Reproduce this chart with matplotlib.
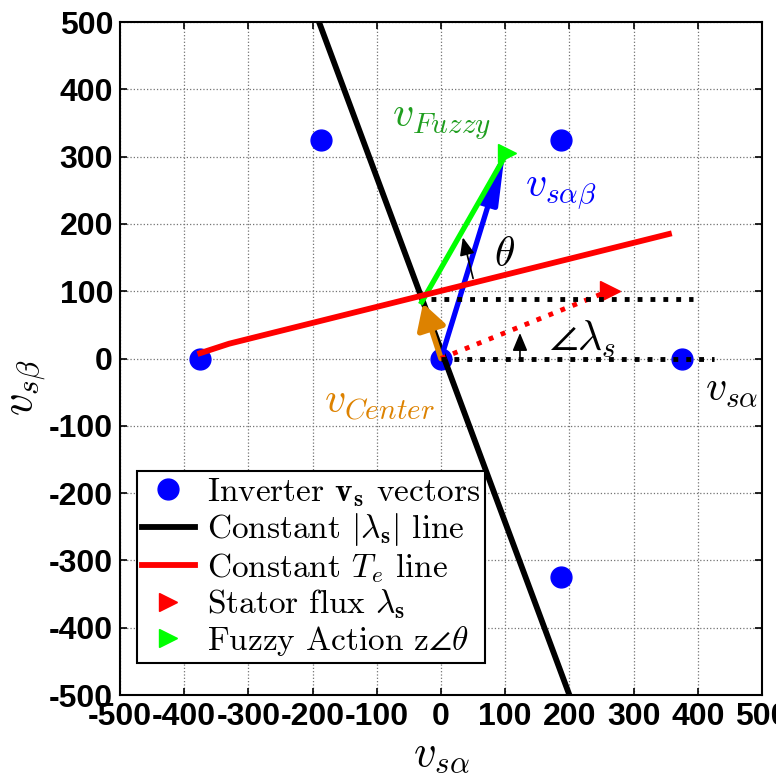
import matplotlib
matplotlib.use('Agg')
import matplotlib.pyplot as plt
from matplotlib.lines import Line2D

plt.rcParams['mathtext.fontset'] = 'cm'
plt.rcParams['axes.unicode_minus'] = False

# inverter voltage vectors
dots_x = [0, 375, 187.5, -187.5, -375, -187.5, 187.5]
dots_y = [0, 0, 325, 325, 0, -325, -325]

# constant |lambda_s| line and constant Te line
flux_line_x = [-190, 200]
flux_line_y = [500, -500]
torque_line_x = [-375, -330, 355]
torque_line_y = [8, 22, 185]

# vectors
v_sab = [100, 310]
v_fuzzy_start = [-30, 84]
v_fuzzy_end = [103, 306]
v_center = [-28, 82]
flux_tip = [263, 101]

# reference dotted lines
ref0_x = [0, 425]
ref0_y = [0, 0]
ref1_x = [-15, 392]
ref1_y = [88, 88]

ticks = list(range(-500, 501, 100))

fig = plt.figure(figsize=(7.76, 7.75), dpi=100)
ax = fig.add_axes([0.1546, 0.1032, 0.8274, 0.8684])

ax.grid(True, linestyle=':', color='0.45', linewidth=0.9)
ax.set_axisbelow(True)

ax.plot(dots_x, dots_y, 'o', color='blue', markersize=15, zorder=2)
ax.plot(flux_line_x, flux_line_y, color='black', linewidth=4.2, zorder=3)

# blue v_s alpha-beta arrow
ax.annotate('', xy=v_sab, xytext=(0, 0),
            arrowprops=dict(arrowstyle='-|>,head_length=1.4,head_width=0.25',
                            color='blue', lw=3.8, shrinkA=0, shrinkB=0,
                            mutation_scale=22), zorder=4)

ax.plot(torque_line_x, torque_line_y, color='red', linewidth=4.2, zorder=5)

# green fuzzy arrow
ax.plot([v_fuzzy_start[0], v_fuzzy_end[0]], [v_fuzzy_start[1], v_fuzzy_end[1]],
        color='#00ff00', linewidth=3.8, zorder=4)
ax.plot([v_fuzzy_end[0]], [v_fuzzy_end[1]], '>', color='#00ff00', markersize=13, zorder=4)

# orange center arrow
ax.annotate('', xy=v_center, xytext=(0, 0),
            arrowprops=dict(arrowstyle='-|>,head_length=0.7,head_width=0.4',
                            color='#dd8200', lw=4, shrinkA=0, shrinkB=0,
                            mutation_scale=22), zorder=6)

# stator flux dotted arrow
ax.plot([0, flux_tip[0]], [0, flux_tip[1]], ':', color='red', linewidth=3.5, zorder=6)
ax.plot([flux_tip[0]], [flux_tip[1]], '>', color='red', markersize=14, zorder=6)

ax.plot(ref0_x, ref0_y, ':', color='black', linewidth=3.5, zorder=6)
ax.plot(ref1_x, ref1_y, ':', color='black', linewidth=3.5, zorder=6)

# small angle arrows
ax.annotate('', xy=(34, 180), xytext=(50, 119),
            arrowprops=dict(arrowstyle='-|>,head_length=0.6,head_width=0.25',
                            color='black', lw=1.2, shrinkA=0, shrinkB=0,
                            mutation_scale=18), zorder=7)
ax.annotate('', xy=(123, 38), xytext=(123, 1),
            arrowprops=dict(arrowstyle='-|>,head_length=0.6,head_width=0.25',
                            color='black', lw=1.2, shrinkA=0, shrinkB=0,
                            mutation_scale=18), zorder=7)

# text labels
ax.text(-76, 344, r'$v_{Fuzzy}$', color='#1f9e1f', fontsize=30, va='baseline', zorder=8)
ax.text(131, 240, r'$v_{s\alpha\beta}$', color='blue', fontsize=30, va='baseline', zorder=8)
ax.text(82, 138, r'$\theta$', color='black', fontsize=30, va='baseline', zorder=8)
ax.text(168, 12, r'$\angle\lambda_s$', color='black', fontsize=30, va='baseline', zorder=8)
ax.text(411, -62, r'$v_{s\alpha}$', color='black', fontsize=30, va='baseline', zorder=8)
ax.text(-183, -82, r'$v_{Center}$', color='#dd8200', fontsize=30, va='baseline', zorder=8)

ax.set_xlim(-500, 500)
ax.set_ylim(-500, 500)
ax.set_xticks(ticks)
ax.set_yticks(ticks)
ax.tick_params(direction='in', top=True, right=True, length=5, width=1.2, pad=5)
for lab in ax.get_xticklabels() + ax.get_yticklabels():
    lab.set_fontfamily('Liberation Sans')
    lab.set_fontweight('bold')
    lab.set_fontsize(23)
for sp in ax.spines.values():
    sp.set_linewidth(1.5)

ax.set_xlabel(r'$v_{s\alpha}$', fontsize=32, labelpad=0)
fig.text(0.035, 0.5, r'$v_{s\beta}$', rotation=90, fontsize=32, ha='center', va='center')

handles = [
    Line2D([], [], marker='o', color='blue', linestyle='none', markersize=15),
    Line2D([], [], color='black', linewidth=4.2),
    Line2D([], [], color='red', linewidth=4.2),
    Line2D([], [], marker='>', color='red', linestyle='none', markersize=13),
    Line2D([], [], marker='>', color='#00ff00', linestyle='none', markersize=13),
]
labels = [
    r'Inverter $\mathbf{v}_\mathbf{s}$ vectors',
    r'Constant $|\lambda_\mathbf{s}|$ line',
    r'Constant $T_e$ line',
    r'Stator flux $\lambda_\mathbf{s}$',
    r'Fuzzy Action z$\angle\theta$',
]
leg = ax.legend(handles, labels, loc='lower left', bbox_to_anchor=(0.026, 0.048),
                prop=dict(family='cmr10', size=24), fancybox=False, framealpha=1,
                edgecolor='black', borderaxespad=0, handlelength=1.6,
                handletextpad=0.35, labelspacing=0.08, borderpad=0.15)
leg.get_frame().set_linewidth(1.5)
leg.set_zorder(10)

fig.savefig('out.png', dpi=100)
